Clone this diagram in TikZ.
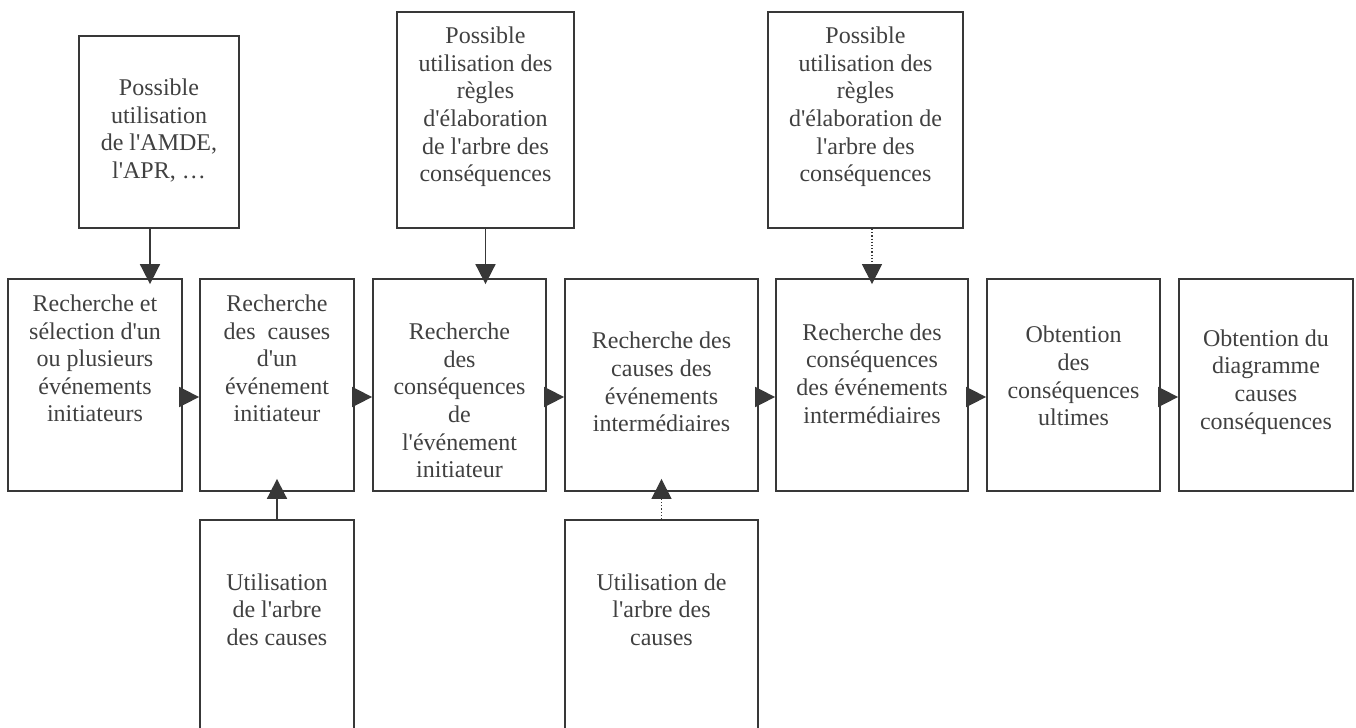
\documentclass[tikz,border=0pt]{standalone}
\usepackage{fontspec}
\setmainfont{Liberation Serif}[Ligatures=TeXOff]
\usetikzlibrary{arrows.meta, positioning}
\definecolor{linegray}{HTML}{383838}
\definecolor{textgray}{HTML}{404040}

\begin{document}
\begin{tikzpicture}[x=0.5pt, y=-0.5pt,
    box/.style={draw=linegray, line width=0.9pt, inner sep=0pt},
    txt/.style={align=center, text=textgray, inner sep=0pt, font=\fontsize{12}{13.8}\selectfont},
    arr/.style={draw=linegray, line width=0.9pt, -{Triangle[length=10pt, width=10pt]}},
    dotarr/.style={arr, line width=0.6pt, dash pattern=on 0.6pt off 1pt}]
    \useasboundingbox (0,0) rectangle (1356,728);
    \clip (0,0) rectangle (1356,728);

    % Main row of steps
    \node[box, minimum width=87pt, minimum height=106pt] (m1) at (95,385) {};
    \node[box, minimum width=77pt, minimum height=106pt] (m2) at (277,385) {};
    \node[box, minimum width=86.5pt, minimum height=106pt] (m3) at (459.5,385) {};
    \node[box, minimum width=96.5pt, minimum height=106pt] (m4) at (661.5,385) {};
    \node[box, minimum width=96pt, minimum height=106pt] (m5) at (872,385) {};
    \node[box, minimum width=86.5pt, minimum height=106pt] (m6) at (1073.5,385) {};
    \node[box, minimum width=87pt, minimum height=106pt] (m7) at (1266,385) {};

    \node[txt] (m1t) at (95,358.5) {Recherche et\\s\'election d'un\\ou plusieurs\\\'ev\'enements\\initiateurs};
    \node[txt] (m2t) at (277,358.5) {Recherche\\des\ \ causes\\d'un\\\'ev\'enement\\initiateur};
    \node[txt] (m3t) at (459.5,400.5) {Recherche\\des\\cons\'equences\\de\\l'\'ev\'enement\\initiateur};
    \node[txt] (m4t) at (661.5,382) {Recherche des\\causes des\\\'ev\'enements\\interm\'ediaires};
    \node[txt] (m5t) at (872,373.5) {Recherche des\\cons\'equences\\des \'ev\'enements\\interm\'ediaires};
    \node[txt] (m6t) at (1073.5,376) {Obtention\\des\\cons\'equences\\ultimes};
    \node[txt] (m7t) at (1266,382) {Obtention du\\diagramme\\causes\\cons\'equences};

    % Aids above
    \node[box, minimum width=80pt, minimum height=96pt] (t1) at (159,132) {};
    \node[box, minimum width=88.5pt, minimum height=108pt] (t2) at (485.5,120) {};
    \node[box, minimum width=97.5pt, minimum height=108pt] (t3) at (865.5,120) {};

    \node[txt] (t1t) at (159,130.5) {Possible\\utilisation\\de l'AMDE,\\l'APR, \dots};
    \node[txt] (t2t) at (485.5,107) {Possible\\utilisation des\\r\`egles\\d'\'elaboration\\de l'arbre des\\cons\'equences};
    \node[txt] (t3t) at (865.5,107) {Possible\\utilisation des\\r\`egles\\d'\'elaboration de\\l'arbre des\\cons\'equences};

    % Aids below
    \node[box, minimum width=77pt, minimum height=112.5pt] (b1) at (277,632.5) {};
    \node[box, minimum width=96.5pt, minimum height=112.5pt] (b2) at (661.5,632.5) {};

    \node[txt] (b1t) at (277,609.5) {Utilisation\\de l'arbre\\des causes};
    \node[txt] (b2t) at (661.5,609.5) {Utilisation de\\l'arbre des\\causes};

    % Flow
    \draw[arr] ([yshift=-6pt]m1.east) -- ([yshift=-6pt]m2.west);
    \draw[arr] ([yshift=-6pt]m2.east) -- ([yshift=-6pt]m3.west);
    \draw[arr] ([yshift=-6pt]m3.east) -- ([yshift=-6pt]m4.west);
    \draw[arr] ([yshift=-6pt]m4.east) -- ([yshift=-6pt]m5.west);
    \draw[arr] ([yshift=-6pt]m5.east) -- ([yshift=-6pt]m6.west);
    \draw[arr] ([yshift=-6pt]m6.east) -- ([yshift=-6pt]m7.west);

    \draw[arr, shorten >=-3pt] ([xshift=-4.5pt]t1.south) -- ([xshift=-4.5pt]t1.south |- m1.north);
    \draw[arr, shorten >=-3pt] (t2.south) -- (t2.south |- m3.north);
    \draw[dotarr, shorten >=-3pt] (t3.south -| m5.north) -- (m5.north);
    \draw[arr, shorten >=-6.5pt] (b1.north) -- (m2.south);
    \draw[dotarr, shorten >=-6.5pt] (b2.north) -- (m4.south);
\end{tikzpicture}
\end{document}
